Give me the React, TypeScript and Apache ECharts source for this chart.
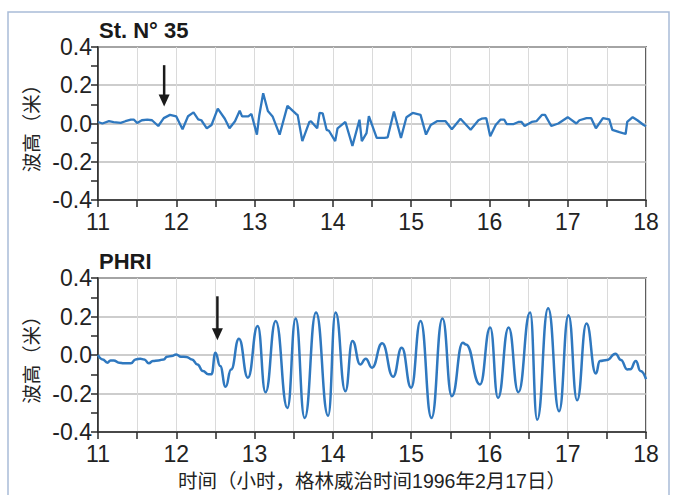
import React, { useEffect, useRef } from "react";
import * as echarts from "echarts";

// Station N° 35 record: [hour (GMT), wave height (m)]
const stN35: [number, number][] = [
  [11.0, 0.008], [11.056, 0.0], [11.14, 0.012], [11.2, 0.007], [11.29, 0.003],
  [11.35, 0.012], [11.42, 0.02], [11.46, 0.02], [11.5, 0.003], [11.56, 0.017],
  [11.63, 0.02], [11.69, 0.017], [11.77, -0.013], [11.84, 0.028], [11.92, 0.045],
  [12.0, 0.037], [12.08, -0.03], [12.15, 0.038], [12.22, 0.058], [12.28, 0.022],
  [12.32, 0.017], [12.39, -0.025], [12.45, -0.008], [12.53, 0.078], [12.62, 0.025],
  [12.68, -0.025], [12.75, 0.012], [12.81, 0.067], [12.84, 0.037], [12.92, 0.037],
  [12.96, 0.05], [13.03, -0.058], [13.06, 0.042], [13.11, 0.158], [13.17, 0.065],
  [13.23, 0.037], [13.32, -0.058], [13.42, 0.092], [13.53, 0.05], [13.55, 0.045],
  [13.61, -0.092], [13.7, 0.008], [13.72, 0.012], [13.8, -0.025], [13.83, 0.055],
  [13.87, 0.053], [13.92, -0.033], [13.95, -0.038], [14.03, -0.092], [14.06, -0.025],
  [14.16, 0.008], [14.25, -0.117], [14.34, 0.02], [14.37, -0.092], [14.43, -0.05],
  [14.46, 0.038], [14.56, -0.075], [14.66, -0.075], [14.7, -0.072], [14.78, 0.063],
  [14.87, -0.075], [14.94, 0.033], [15.02, 0.055], [15.12, 0.045], [15.19, -0.058],
  [15.25, -0.008], [15.33, 0.012], [15.44, 0.012], [15.52, -0.03], [15.63, 0.025],
  [15.76, -0.033], [15.86, 0.017], [15.9, 0.025], [15.96, 0.028], [16.01, -0.067],
  [16.08, -0.008], [16.14, 0.02], [16.19, 0.02], [16.22, -0.003], [16.31, -0.003],
  [16.37, 0.008], [16.41, 0.008], [16.45, -0.013], [16.54, 0.008], [16.6, 0.012],
  [16.67, 0.045], [16.71, 0.045], [16.79, -0.013], [16.88, 0.0], [17.0, 0.033],
  [17.11, 0.0], [17.15, 0.017], [17.24, 0.028], [17.3, 0.028], [17.36, -0.025],
  [17.45, 0.028], [17.53, 0.022], [17.57, -0.033], [17.66, -0.045], [17.74, -0.055],
  [17.76, 0.008], [17.83, 0.033], [17.89, 0.017], [17.97, -0.008], [18.0, -0.015],
];

// PHRI record: [hour (GMT), wave height (m)]
const phri: [number, number][] = [
  [11.0, 0.0], [11.06, -0.023], [11.12, -0.04], [11.16, -0.028], [11.2, -0.028],
  [11.27, -0.04], [11.33, -0.043], [11.42, -0.043], [11.48, -0.023], [11.54, -0.019],
  [11.59, -0.023], [11.65, -0.043], [11.7, -0.031], [11.77, -0.028], [11.84, -0.023],
  [11.88, -0.009], [11.94, -0.005], [12.0, 0.003], [12.06, -0.009], [12.13, -0.01],
  [12.2, -0.023], [12.27, -0.049], [12.34, -0.083], [12.41, -0.1], [12.45, -0.1],
  [12.5, 0.012], [12.56, -0.057], [12.63, -0.165], [12.7, -0.075], [12.8, 0.085],
  [12.915, -0.118], [13.04, 0.151], [13.14, -0.193], [13.27, 0.177], [13.42, -0.275],
  [13.525, 0.19], [13.64, -0.327], [13.785, 0.221], [13.94, -0.315], [14.035, 0.221],
  [14.16, -0.188], [14.25, 0.073], [14.35, -0.049], [14.42, -0.019], [14.5, -0.066],
  [14.63, 0.061], [14.77, -0.113], [14.88, 0.038], [15.0, -0.17], [15.12, 0.177],
  [15.26, -0.327], [15.4, 0.19], [15.52, -0.214], [15.66, 0.064], [15.7, 0.055],
  [15.88, -0.153], [16.01, 0.143], [16.11, -0.223], [16.245, 0.143], [16.37, -0.193],
  [16.52, 0.221], [16.61, -0.336], [16.75, 0.243], [16.89, -0.292], [17.01, 0.207],
  [17.12, -0.235], [17.24, 0.163], [17.36, -0.096], [17.41, -0.031], [17.5, -0.026],
  [17.61, 0.007], [17.68, -0.026], [17.76, -0.075], [17.8, -0.074], [17.87, -0.031],
  [17.93, -0.083], [18.0, -0.125],
];

const panelTitles = ["St. N° 35", "PHRI"];
const yAxisName = "波高（米）";
const xAxisName = "时间（小时，格林威治时间1996年2月17日）";
const hourRange = [11, 18];
const heightRange = [-0.4, 0.4];
// arrival arrows: [panel, hour, shaft top value, tip value]
const arrivalArrows: [number, number, number, number][] = [
  [0, 11.845, 0.305, 0.089],
  [1, 12.525, 0.305, 0.077],
];

const LATIN = "'Liberation Sans', Arial, 'Noto Sans CJK SC', sans-serif";
const CJK = "'Liberation Sans', 'Noto Sans CJK SC', sans-serif";
const DARK = "#2a2a2a";
const LINE_BLUE = "#2f78bf";

export default function App() {
  const ref = useRef<HTMLDivElement>(null);

  useEffect(() => {
    document.body.style.margin = "0";
    const chart = echarts.init(ref.current!, null, { renderer: "svg" });

    const grids = [
      { left: 98, right: 30, top: 47, height: 153 },
      { left: 98, right: 30, top: 278, height: 154 },
    ].map((g) => ({ ...g, show: true, borderColor: DARK, borderWidth: 1.5, backgroundColor: "transparent" }));

    const makeX = (gi: number) => ({
      type: "value",
      gridIndex: gi,
      min: hourRange[0],
      max: hourRange[1],
      interval: 1,
      axisLine: { show: true, onZero: false, lineStyle: { color: DARK, width: 1.5 } },
      axisTick: { show: true, inside: false, length: 7, lineStyle: { color: DARK, width: 1.5 } },
      minorTick: { show: true, splitNumber: 2, length: 7, lineStyle: { color: DARK, width: 1.5 } },
      axisLabel: { fontSize: 23, color: "#222", fontFamily: LATIN, margin: 10 },
      splitLine: { show: true, lineStyle: { color: "#dadada", width: 1 } },
      minorSplitLine: { show: true, lineStyle: { color: "#dadada", width: 1 } },
      ...(gi === 1
        ? {
            name: xAxisName,
            nameLocation: "middle",
            nameGap: 39,
            nameTextStyle: { fontSize: 19.5, color: "#222", fontFamily: CJK },
          }
        : {}),
    });

    const makeY = (gi: number) => ({
      type: "value",
      gridIndex: gi,
      min: heightRange[0],
      max: heightRange[1],
      interval: 0.2,
      name: yAxisName,
      nameLocation: "middle",
      nameGap: 56,
      nameRotate: 90,
      nameTextStyle: { fontSize: 19.5, color: "#222", fontFamily: CJK },
      axisLine: { show: true, onZero: false, lineStyle: { color: DARK, width: 1.5 } },
      axisTick: { show: true, inside: false, length: 7, lineStyle: { color: DARK, width: 1.5 } },
      minorTick: { show: true, splitNumber: 2, length: 7, lineStyle: { color: DARK, width: 1.5 } },
      axisLabel: {
        fontSize: 23,
        color: "#222",
        fontFamily: LATIN,
        margin: 6,
        formatter: (v: number) => (Math.abs(v) < 1e-9 ? 0 : v).toFixed(1),
      },
      splitLine: { show: true, lineStyle: { color: "#bdbdbd", width: 1.5 } },
    });

    chart.setOption({
      animation: false,
      backgroundColor: "#ffffff",
      title: [
        { text: panelTitles[0], left: 99, top: 19, padding: 0, textStyle: { fontSize: 22, fontWeight: "bold", color: "#1a1a1a", fontFamily: LATIN } },
        { text: panelTitles[1], left: 99, top: 250, padding: 0, textStyle: { fontSize: 22, fontWeight: "bold", color: "#1a1a1a", fontFamily: LATIN } },
      ],
      grid: grids,
      xAxis: [makeX(0), makeX(1)],
      yAxis: [makeY(0), makeY(1)],
      series: [
        {
          type: "line",
          xAxisIndex: 0,
          yAxisIndex: 0,
          data: stN35,
          showSymbol: false,
          lineStyle: { color: LINE_BLUE, width: 2.3 },
          z: 5,
        },
        {
          type: "line",
          xAxisIndex: 1,
          yAxisIndex: 1,
          data: phri,
          smooth: 0.5,
          smoothMonotone: "x",
          showSymbol: false,
          lineStyle: { color: LINE_BLUE, width: 2.5 },
          z: 5,
        },
      ],
    });

    const elements: any[] = [
      {
        type: "rect",
        shape: { x: 8, y: 12, width: 661, height: 500 },
        style: { fill: "none", stroke: "#a9bcd8", lineWidth: 1.5 },
        z: 0,
        silent: true,
      },
    ];
    arrivalArrows.forEach(([gi, hour, fromV, toV]) => {
      const top = chart.convertToPixel({ gridIndex: gi } as any, [hour, fromV]) as number[];
      const tip = chart.convertToPixel({ gridIndex: gi } as any, [hour, toV]) as number[];
      const headH = 12;
      const headW = 11;
      elements.push({
        type: "line",
        shape: { x1: top[0], y1: top[1], x2: tip[0], y2: tip[1] - headH + 1 },
        style: { stroke: "#1a1a1a", lineWidth: 2.5 },
        z: 20,
      });
      elements.push({
        type: "polygon",
        shape: {
          points: [
            [tip[0] - headW / 2, tip[1] - headH],
            [tip[0] + headW / 2, tip[1] - headH],
            [tip[0], tip[1]],
          ],
        },
        style: { fill: "#1a1a1a" },
        z: 20,
      });
    });
    chart.setOption({ graphic: { elements } });

    return () => chart.dispose();
  }, []);

  return <div ref={ref} style={{ width: 676, height: 495 }} />;
}
